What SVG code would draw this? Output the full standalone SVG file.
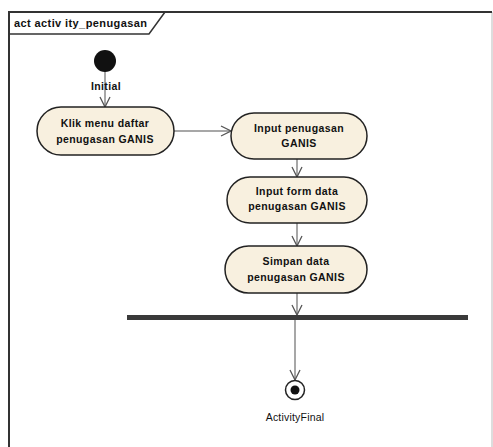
<svg xmlns="http://www.w3.org/2000/svg" width="493" height="447" viewBox="0 0 493 447">
  <defs>
    <marker id="open" viewBox="0 0 12 14" refX="11" refY="7" markerWidth="12" markerHeight="14" markerUnits="userSpaceOnUse" orient="auto">
      <path d="M1,2 L11,7 L1,12" fill="none" stroke="#555" stroke-width="1.3"/>
    </marker>
  </defs>
  <style>
    text { font-family: "Liberation Sans", Arial, sans-serif; font-weight: bold; font-size: 10.5px; letter-spacing: 0.4px; fill: #111; }
    .action { fill: #f8f0df; stroke: #222; stroke-width: 1.5; }
    .edge { fill: none; stroke: #8a8a8a; stroke-width: 1.5; marker-end: url(#open); }
    .plain { font-weight: normal; letter-spacing: 0.2px; }
  </style>
  <rect width="493" height="447" fill="#ffffff"/>

  <!-- diagram frame -->
  <g id="frame">
    <line x1="492" y1="12" x2="492" y2="447" stroke="#bbb" stroke-width="1"/>
    <path d="M9,447 L9,12 L492,12" fill="none" stroke="#333" stroke-width="2"/>
    <path d="M9,34 L149,34 L165,12" fill="none" stroke="#333" stroke-width="1.5"/>
    <text x="14" y="27" style="font-size:11px">act activ ity_penugasan</text>
  </g>

  <!-- connectors -->
  <g id="connectors">
    <line class="edge" x1="105" y1="71" x2="105" y2="107"/>
    <line class="edge" x1="174" y1="131" x2="231" y2="131"/>
    <line class="edge" x1="297" y1="159" x2="297" y2="177"/>
    <line class="edge" x1="297" y1="223" x2="297" y2="246"/>
    <line class="edge" x1="297" y1="293" x2="297" y2="315"/>
    <line class="edge" x1="295" y1="320" x2="295" y2="380"/>
  </g>

  <g id="initial">
    <circle cx="105" cy="61" r="11" fill="#111"/>
    <text x="106" y="90" text-anchor="middle">Initial</text>
  </g>

  <g id="klik_menu">
    <rect class="action" x="37" y="107" width="137" height="48" rx="24"/>
    <text x="105" y="127" text-anchor="middle">Klik menu daftar</text>
    <text x="105" y="143" text-anchor="middle">penugasan GANIS</text>
  </g>

  <g id="input_penugasan">
    <rect class="action" x="231" y="113" width="136" height="46" rx="23"/>
    <text x="299" y="132" text-anchor="middle">Input penugasan</text>
    <text x="299" y="147" text-anchor="middle">GANIS</text>
  </g>

  <g id="input_form">
    <rect class="action" x="227" y="177" width="140" height="46" rx="23"/>
    <text x="297" y="195" text-anchor="middle">Input form data</text>
    <text x="297" y="210" text-anchor="middle">penugasan GANIS</text>
  </g>

  <g id="simpan_data">
    <rect class="action" x="225" y="246" width="142" height="47" rx="23.5"/>
    <text x="296" y="265" text-anchor="middle">Simpan data</text>
    <text x="296" y="281" text-anchor="middle">penugasan GANIS</text>
  </g>

  <g id="join">
    <rect x="127" y="315" width="341" height="5" fill="#3a3a3a"/>
  </g>

  <g id="activity_final">
    <circle cx="295" cy="390" r="9.5" fill="#fff" stroke="#222" stroke-width="1.5"/>
    <circle cx="295" cy="390" r="4.5" fill="#111"/>
    <text x="295" y="421" text-anchor="middle" class="plain">ActivityFinal</text>
  </g>
</svg>
